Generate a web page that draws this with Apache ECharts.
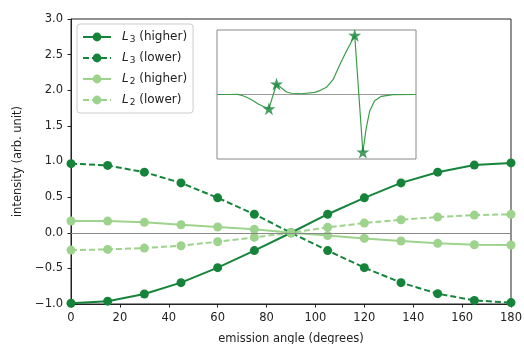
<!DOCTYPE html>
<html>
<head>
<meta charset="utf-8">
<script src="https://cdn.jsdelivr.net/npm/echarts@6/dist/echarts.min.js"></script>
<style>html,body{margin:0;padding:0;background:#fff}#c{width:524px;height:344px}</style>
</head>
<body>
<div id="c"></div>
<script>
// ---- data ----
const angles = [0, 15, 30, 45, 60, 75, 90, 105, 120, 135, 150, 165, 180];
const L3higher = [-0.99, -0.96, -0.86, -0.70, -0.49, -0.25, 0, 0.26, 0.49, 0.70, 0.85, 0.95, 0.98];
const L3lower  = [0.97, 0.945, 0.85, 0.70, 0.49, 0.26, 0, -0.25, -0.49, -0.70, -0.855, -0.95, -0.98];
const L2higher = [0.165, 0.164, 0.146, 0.112, 0.08, 0.048, 0, -0.04, -0.079, -0.116, -0.149, -0.168, -0.172];
const L2lower  = [-0.243, -0.234, -0.215, -0.182, -0.126, -0.065, 0, 0.076, 0.136, 0.183, 0.22, 0.248, 0.258];
const seriesNames = ['L3 (higher)', 'L3 (lower)', 'L2 (higher)', 'L2 (lower)'];
// inset spectrum (arbitrary units)
const insetX = [0, 6.5, 10.5, 13, 15.7, 18, 20.7, 23.1, 26.1, 29.9, 32.4, 34.9, 37.4, 42.5, 49.1, 51.6, 55, 58.3, 61.7, 65, 66.7, 69.2, 73.3, 75, 76.7, 79.2, 82.6, 88.4, 100];
const insetY = [0, 0, 0.003, -0.02, -0.054, -0.093, -0.147, -0.183, -0.22, 0.163, 0.10, 0.039, 0.019, 0.012, 0.034, 0.059, 0.112, 0.229, 0.462, 0.67, 0.767, 0.918, -0.891, -0.519, -0.26, -0.096, -0.028, -0.003, 0];
const starX = [26.1, 29.9, 69.2, 73.3];
const starY = [-0.22, 0.163, 0.918, -0.891];

const dark = '#15843a';
const light = '#9dd38c';
const FONT = 'DejaVu Sans';
const starPath = 'path://M50,0 L61.2,34.5 L97.6,34.5 L68.2,55.9 L79.4,90.5 L50,69.1 L20.6,90.5 L31.8,55.9 L2.4,34.5 L38.8,34.5 Z';

function zip(xs, ys) { return xs.map((x, i) => [x, ys[i]]); }
const fmtNum = v => v.toFixed(1).replace('-', '\u2212');

const chart = echarts.init(document.getElementById('c'), null, {renderer: 'canvas'});

function mkSeries(name, data, color, dashed) {
  return {
    name: name, type: 'line', xAxisIndex: 0, yAxisIndex: 0,
    data: zip(angles, data), z: 3,
    symbol: 'circle', symbolSize: 9,
    lineStyle: {color: color, width: 2, type: dashed ? [6, 3] : 'solid'},
    itemStyle: {color: color},
    emphasis: {disabled: true}, animation: false
  };
}

const option = {
  animation: false,
  grid: [
    {left: 71, right: 13, top: 19, bottom: 40, show: true, borderColor: '#222', borderWidth: 1, backgroundColor: 'transparent', containLabel: false, outerBoundsMode: 'none'},
    {left: 217, top: 30, width: 199, height: 129, show: true, borderColor: '#888', borderWidth: 1, backgroundColor: '#fff', containLabel: false, outerBoundsMode: 'none'}
  ],
  xAxis: [
    {type: 'value', gridIndex: 0, min: 0, max: 180, interval: 20,
     axisLine: {show: true, onZero: false, lineStyle: {color: '#222', width: 1}},
     axisTick: {show: true, length: 3.5, lineStyle: {color: '#222'}},
     axisLabel: {color: '#222', fontFamily: FONT, fontSize: 11.5, margin: 8},
     splitLine: {show: false},
     name: 'emission angle (degrees)', nameLocation: 'middle', nameGap: 29,
     nameTextStyle: {color: '#222', fontFamily: FONT, fontSize: 11.5}},
    {type: 'value', gridIndex: 1, min: 0, max: 100, show: false}
  ],
  yAxis: [
    {type: 'value', gridIndex: 0, min: -1, max: 3, interval: 0.5,
     axisLine: {show: true, onZero: false, lineStyle: {color: '#222', width: 1}},
     axisTick: {show: true, length: 3.5, lineStyle: {color: '#222'}},
     axisLabel: {color: '#222', fontFamily: FONT, fontSize: 11.5, margin: 8, formatter: fmtNum},
     splitLine: {show: false},
     name: 'intensity (arb. unit)', nameLocation: 'middle', nameGap: 46,
     nameTextStyle: {color: '#222', fontFamily: FONT, fontSize: 11.5}},
    {type: 'value', gridIndex: 1, min: -1, max: 1, show: false}
  ],
  legend: {
    data: seriesNames, orient: 'vertical', left: 77, top: 24,
    padding: [7, 6, 6, 5], itemWidth: 28, itemHeight: 11, itemGap: 8,
    backgroundColor: 'rgba(255,255,255,0.85)', borderColor: '#ccc', borderWidth: 1, borderRadius: 3,
    textStyle: {
      color: '#222', fontFamily: FONT, fontSize: 12,
      rich: {
        i: {fontStyle: 'italic', fontFamily: FONT, fontSize: 12, color: '#222', padding: [0, 0, 0, 6]},
        s: {fontFamily: FONT, fontSize: 9, color: '#222', padding: [5, 0, 0, 1]},
        t: {fontFamily: FONT, fontSize: 12, color: '#222'}
      }
    },
    formatter: function (name) {
      const m = name.match(/^L(\d) (.*)$/);
      return '{i|L}{s|' + m[1] + '}{t| ' + m[2] + '}';
    }
  },
  series: [
    {type: 'line', xAxisIndex: 0, yAxisIndex: 0, data: [], z: 1, silent: true,
     markLine: {silent: true, symbol: 'none', label: {show: false}, animation: false,
       lineStyle: {color: '#888', width: 1, type: 'solid'}, data: [{yAxis: 0}]}},
    mkSeries(seriesNames[0], L3higher, dark, false),
    mkSeries(seriesNames[1], L3lower, dark, true),
    mkSeries(seriesNames[2], L2higher, light, false),
    mkSeries(seriesNames[3], L2lower, light, true),
    {type: 'line', xAxisIndex: 1, yAxisIndex: 1, data: [], z: 4, silent: true,
     markLine: {silent: true, symbol: 'none', label: {show: false}, animation: false,
       lineStyle: {color: '#999', width: 1, type: 'solid'}, data: [{yAxis: 0}]}},
    {type: 'line', xAxisIndex: 1, yAxisIndex: 1, data: zip(insetX, insetY), z: 5, silent: true,
     showSymbol: false, symbol: 'none', lineStyle: {color: '#3a9d48', width: 1.2}},
    {type: 'scatter', xAxisIndex: 1, yAxisIndex: 1, data: zip(starX, starY), z: 6, silent: true,
     symbol: starPath, symbolSize: 13, itemStyle: {color: '#17843a'}}
  ]
};
chart.setOption(option);
</script>
</body>
</html>
